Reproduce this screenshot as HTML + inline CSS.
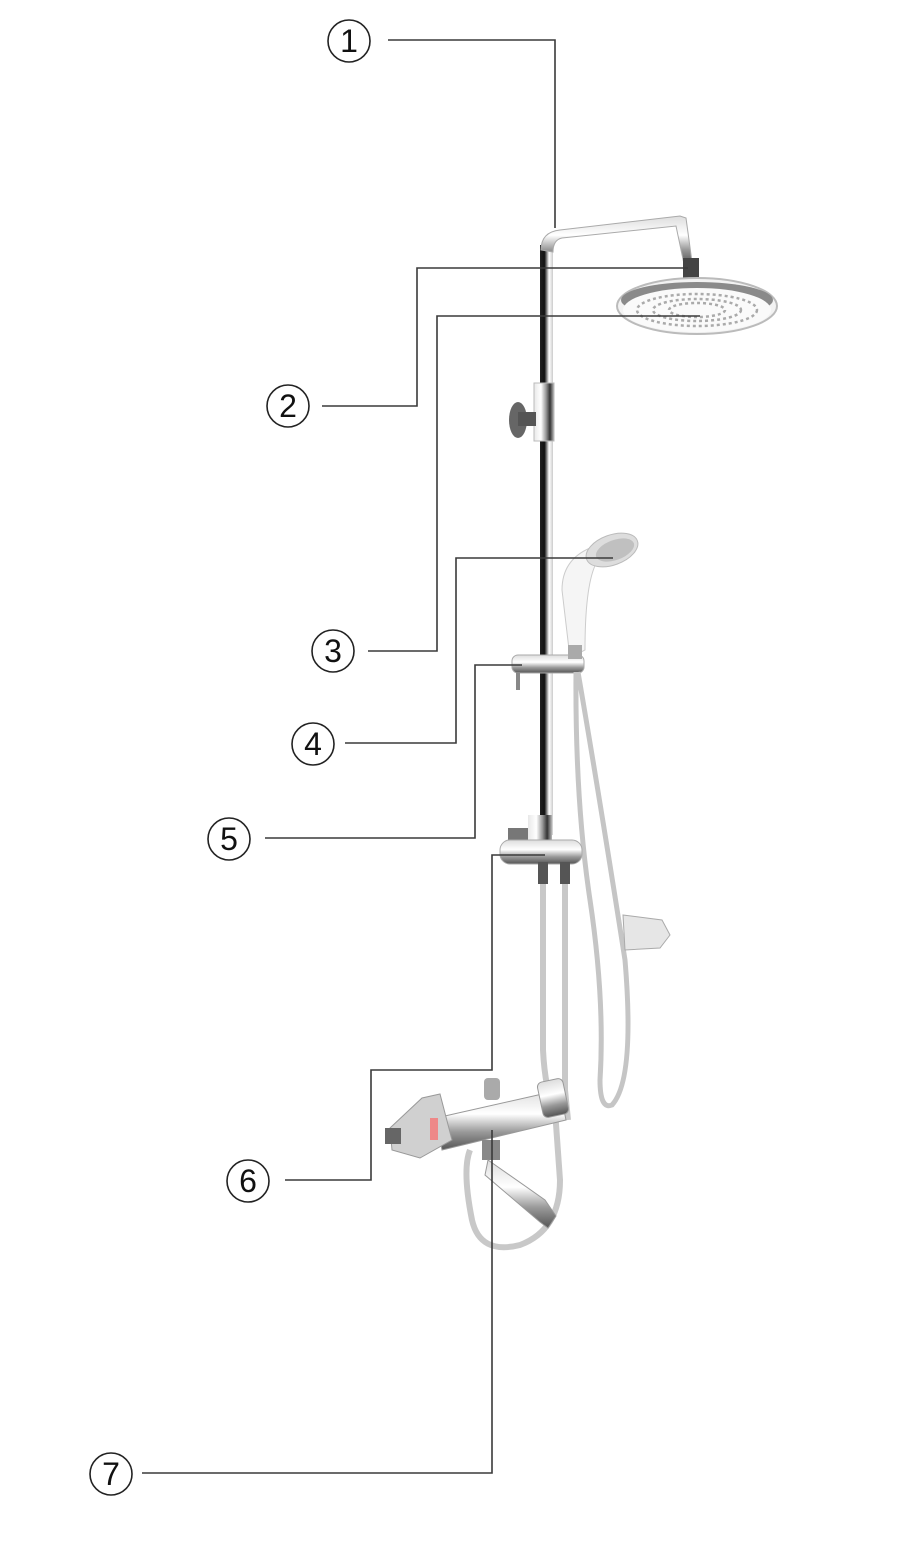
<!DOCTYPE html>
<html><head><meta charset="utf-8"><style>
html,body{margin:0;padding:0;background:#fff;}
svg{display:block}
text{font-family:"Liberation Sans",sans-serif;}
</style></head><body>
<svg width="900" height="1541" viewBox="0 0 900 1541" xmlns="http://www.w3.org/2000/svg">
<defs>
<linearGradient id="chr" x1="0" x2="1" y1="0" y2="0">
<stop offset="0" stop-color="#222"/><stop offset="0.35" stop-color="#111"/><stop offset="0.5" stop-color="#777"/><stop offset="0.7" stop-color="#fff"/><stop offset="1" stop-color="#ccc"/>
</linearGradient>
<linearGradient id="chr2" x1="0" x2="1" y1="0" y2="0">
<stop offset="0" stop-color="#e8e8e8"/><stop offset="0.35" stop-color="#ffffff"/><stop offset="0.6" stop-color="#9a9a9a"/><stop offset="0.8" stop-color="#333"/><stop offset="1" stop-color="#bbb"/>
</linearGradient>
<linearGradient id="chrv" x1="0" x2="0" y1="0" y2="1">
<stop offset="0" stop-color="#ddd"/><stop offset="0.4" stop-color="#fff"/><stop offset="0.7" stop-color="#999"/><stop offset="1" stop-color="#555"/>
</linearGradient>
</defs>

<!-- riser pipe -->
<rect x="540" y="245" width="13" height="590" fill="url(#chr)"/>
<path d="M541 250 Q541 232 560 230 L680 216 L686 218 L692 262 L684 264 L676 226 L562 238 Q553 240 553 252 Z" fill="url(#chrv)" stroke="#aaa" stroke-width="1"/>
<rect x="683" y="258" width="16" height="24" fill="#444"/>
<rect x="678" y="278" width="28" height="10" fill="#777"/>
<!-- overhead shower head -->
<ellipse cx="697" cy="306" rx="80" ry="28" fill="#f2f2f2" stroke="#bbb" stroke-width="2"/>
<ellipse cx="697" cy="300" rx="76" ry="18" fill="#8a8a8a"/>
<ellipse cx="697" cy="310" rx="74" ry="22" fill="#fafafa"/>
<g fill="none" stroke="#aaa" stroke-width="2.5" stroke-dasharray="3 3">
<ellipse cx="697" cy="310" rx="60" ry="16"/>
<ellipse cx="697" cy="310" rx="44" ry="11"/>
<ellipse cx="697" cy="310" rx="28" ry="7"/>
</g>
<!-- wall bracket top -->
<rect x="534" y="383" width="20" height="58" fill="url(#chr2)" stroke="#bbb"/>
<ellipse cx="518" cy="420" rx="9" ry="18" fill="#666"/>
<rect x="518" y="412" width="18" height="14" fill="#555"/>

<!-- hand shower -->
<path d="M570 658 L562 590 Q562 560 590 548 L598 560 Q585 580 585 650 Z" fill="#f5f5f5" stroke="#ccc"/>
<ellipse cx="612" cy="550" rx="27" ry="15" fill="#ddd" stroke="#bbb" transform="rotate(-20 612 550)"/>
<ellipse cx="615" cy="550" rx="20" ry="10" fill="#c0c0c0" transform="rotate(-20 615 550)"/>
<rect x="512" y="655" width="72" height="18" rx="6" fill="url(#chrv)" stroke="#aaa"/>
<rect x="516" y="672" width="4" height="18" fill="#888"/>
<rect x="568" y="645" width="14" height="14" fill="#aaa"/>

<path d="M576 672 Q575 800 590 900 Q605 1000 600 1080 Q600 1110 612 1105 Q635 1080 625 960 Q600 800 578 672" fill="none" stroke="#c5c5c5" stroke-width="5"/>
<!-- diverter -->
<rect x="528" y="815" width="24" height="30" fill="url(#chr2)"/>
<rect x="508" y="828" width="20" height="16" fill="#777"/>
<rect x="500" y="840" width="82" height="24" rx="10" fill="url(#chrv)" stroke="#aaa"/>
<rect x="538" y="862" width="10" height="22" fill="#555"/>
<rect x="560" y="862" width="10" height="22" fill="#555"/>
<path d="M543 884 L543 1050 Q545 1090 555 1110 L560 1180 Q560 1230 520 1245 Q480 1255 472 1220 Q462 1170 470 1150" fill="none" stroke="#c8c8c8" stroke-width="6"/>
<path d="M565 884 L565 1090 L568 1120" fill="none" stroke="#c8c8c8" stroke-width="6"/>
<path d="M623 915 L662 920 L670 935 L660 948 L625 950 Z" fill="#e6e6e6" stroke="#aaa"/>

<!-- mixer -->
<g>
<rect x="484" y="1078" width="16" height="22" rx="4" fill="#aaa"/>
<path d="M436 1118 L560 1090 L566 1120 L442 1150 Z" fill="url(#chrv)" stroke="#999"/>
<rect x="540" y="1080" width="26" height="36" rx="5" fill="url(#chrv)" stroke="#999" transform="rotate(-12 553 1098)"/>
<path d="M390 1128 L422 1098 L440 1094 L452 1140 L420 1158 L392 1150 Z" fill="#d0d0d0" stroke="#999"/>
<rect x="385" y="1128" width="16" height="16" fill="#666"/>
<rect x="430" y="1118" width="8" height="22" fill="#e88"/>
<rect x="482" y="1140" width="18" height="20" fill="#888"/>
<path d="M488 1160 L545 1200 L556 1216 L548 1228 L540 1222 L485 1175 Z" fill="url(#chrv)" stroke="#999"/>
</g>

<!-- leader lines -->
<g fill="none" stroke="#3a3a3a" stroke-width="1.6">
<polyline points="388,40 555,40 555,228"/>
<polyline points="322,406 417,406 417,268 688,268"/>
<polyline points="368,651 437,651 437,316 700,316"/>
<polyline points="345,743 456,743 456,558 613,558"/>
<polyline points="265,838 475,838 475,665 522,665"/>
<polyline points="285,1180 371,1180 371,1070 492,1070 492,855 545,855"/>
<polyline points="142,1473 492,1473 492,1130"/>
</g>

<g fill="none" stroke="#222" stroke-width="1.6">
<circle cx="349" cy="41" r="21"/>
<circle cx="288" cy="406" r="21"/>
<circle cx="333" cy="651" r="21"/>
<circle cx="313" cy="744" r="21"/>
<circle cx="229" cy="839" r="21"/>
<circle cx="248" cy="1181" r="21"/>
<circle cx="111" cy="1474" r="21"/>
</g>
<g font-size="32" text-anchor="middle" fill="#111">
<text x="349" y="52">1</text>
<text x="288" y="417">2</text>
<text x="333" y="662">3</text>
<text x="313" y="755">4</text>
<text x="229" y="850">5</text>
<text x="248" y="1192">6</text>
<text x="111" y="1485">7</text>
</g>
</svg>
</body></html>
